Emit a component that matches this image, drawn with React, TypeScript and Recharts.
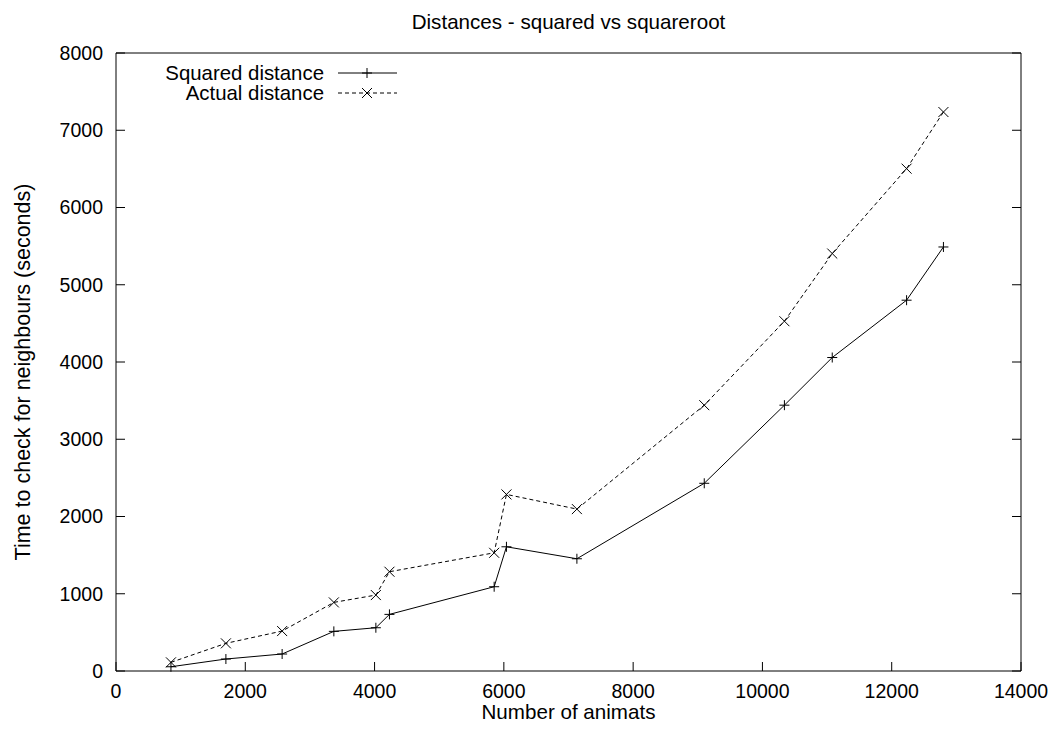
import { Legend, Line, LineChart, XAxis, YAxis } from "recharts";

const animats = [850, 1700, 2570, 3370, 4020, 4230, 5850, 6040, 7130, 9100, 10340, 11080, 12230, 12800];
const squaredTimes = [55, 155, 220, 513, 560, 733, 1091, 1608, 1453, 2430, 3441, 4058, 4800, 5489];
const actualTimes = [112, 358, 517, 888, 983, 1285, 1530, 2286, 2096, 3441, 4528, 5404, 6503, 7236];
const xTicks = [0, 2000, 4000, 6000, 8000, 10000, 12000, 14000];
const yTicks = [0, 1000, 2000, 3000, 4000, 5000, 6000, 7000, 8000];

const data = animats.map((n, i) => ({
  n,
  squared: squaredTimes[i],
  actual: actualTimes[i],
}));

const FONT = '"Liberation Sans", Arial, Helvetica, sans-serif';
const TICK = 9;

const PlusDot = (props: any) => {
  const { cx, cy } = props;
  if (cx == null || cy == null) return null;
  return (
    <path d={`M${cx - 5},${cy}H${cx + 5}M${cx},${cy - 5}V${cy + 5}`} stroke="#000" strokeWidth={1} />
  );
};

const CrossDot = (props: any) => {
  const { cx, cy } = props;
  if (cx == null || cy == null) return null;
  return (
    <path
      d={`M${cx - 5},${cy - 5}L${cx + 5},${cy + 5}M${cx - 5},${cy + 5}L${cx + 5},${cy - 5}`}
      stroke="#000"
      strokeWidth={1}
    />
  );
};

const BottomTick = ({ x, y, payload }: any) => (
  <g>
    <line x1={x} y1={y} x2={x} y2={y - TICK} stroke="#000" />
    <text x={x} y={y + 27} textAnchor="middle" fontSize={19.5} fontFamily={FONT} fill="#000">
      {payload.value}
    </text>
  </g>
);

const LeftTick = ({ x, y, payload }: any) => (
  <g>
    <line x1={x} y1={y} x2={x + TICK} y2={y} stroke="#000" />
    <text x={x - 13} y={y} dy="0.35em" textAnchor="end" fontSize={19.5} fontFamily={FONT} fill="#000">
      {payload.value}
    </text>
  </g>
);

const RightTick = ({ x, y }: any) => <line x1={x} y1={y} x2={x - TICK} y2={y} stroke="#000" />;

const legendRows = [
  { label: "Squared distance", dash: undefined, Dot: PlusDot },
  { label: "Actual distance", dash: "4 3", Dot: CrossDot },
];

const KeyBox = () => (
  <svg width={300} height={50} style={{ display: "block" }}>
    {legendRows.map((row, i) => {
      const y = 12 + i * 20;
      return (
        <g key={row.label}>
          <text x={208} y={y} dy="0.35em" textAnchor="end" fontSize={20.4} fontFamily={FONT} fill="#000">
            {row.label}
          </text>
          <line x1={222} x2={281} y1={y} y2={y} stroke="#000" strokeDasharray={row.dash} />
          <row.Dot cx={251} cy={y} />
        </g>
      );
    })}
  </svg>
);

export default function App() {
  return (
    <div style={{ position: "absolute", left: 0, top: 0, width: 1055, height: 731, background: "#fff" }}>
      <div
        style={{
          position: "absolute",
          top: 10,
          left: 116,
          width: 905,
          textAlign: "center",
          fontFamily: FONT,
          fontSize: 20.6,
        }}
      >
        Distances - squared vs squareroot
      </div>
      <LineChart width={1055} height={731} data={data} margin={{ top: 53, right: 33, bottom: 30, left: 56 }}>
        <XAxis
          xAxisId="b"
          dataKey="n"
          type="number"
          domain={[0, 14000]}
          ticks={xTicks}
          tickSize={0}
          tickMargin={0}
          tick={<BottomTick />}
          tickLine={false}
          axisLine={{ stroke: "#000" }}
          height={30}
          interval={0}
          label={{
            value: "Number of animats",
            position: "insideBottom",
            offset: -18,
            fontSize: 20.6,
            fontFamily: FONT,
            fill: "#000",
          }}
        />
        <XAxis
          xAxisId="t"
          orientation="top"
          mirror
          dataKey="n"
          type="number"
          domain={[0, 14000]}
          ticks={xTicks}
          tickSize={TICK}
          tick={false}
          tickLine={{ stroke: "#000" }}
          axisLine={{ stroke: "#000" }}
          interval={0}
        />
        <YAxis
          yAxisId="l"
          type="number"
          domain={[0, 8000]}
          ticks={yTicks}
          tickSize={0}
          tickMargin={0}
          tick={<LeftTick />}
          tickLine={false}
          axisLine={{ stroke: "#000" }}
          width={60}
          interval={0}
          label={{
            value: "Time to check for neighbours (seconds)",
            content: (p: any) => {
              const vb = p.viewBox;
              const cy = vb.y + vb.height / 2 + 10;
              return (
                <text
                  x={22}
                  y={cy}
                  transform={`rotate(-90 22 ${cy})`}
                  textAnchor="middle"
                  dy="0.35em"
                  fontSize={21.5}
                  fontFamily={FONT}
                  fill="#000"
                >
                  Time to check for neighbours (seconds)
                </text>
              );
            },
          }}
        />
        <YAxis
          yAxisId="r"
          orientation="right"
          type="number"
          domain={[0, 8000]}
          ticks={yTicks}
          tickSize={0}
          tickMargin={0}
          tick={<RightTick />}
          tickLine={false}
          axisLine={{ stroke: "#000" }}
          width={1}
          interval={0}
        />
        <Legend
          layout="horizontal"
          verticalAlign="middle"
          align="center"
          content={() => <KeyBox />}
          wrapperStyle={{ position: "absolute", left: 116, top: 61, width: 300 }}
        />
        <Line
          xAxisId="b"
          yAxisId="l"
          type="linear"
          dataKey="squared"
          name="Squared distance"
          stroke="#000"
          strokeWidth={1}
          dot={<PlusDot />}
          activeDot={false}
          isAnimationActive={false}
        />
        <Line
          xAxisId="t"
          yAxisId="r"
          type="linear"
          dataKey="actual"
          name="Actual distance"
          stroke="#000"
          strokeWidth={1}
          strokeDasharray="4 3"
          dot={<CrossDot />}
          activeDot={false}
          isAnimationActive={false}
        />
      </LineChart>
    </div>
  );
}
